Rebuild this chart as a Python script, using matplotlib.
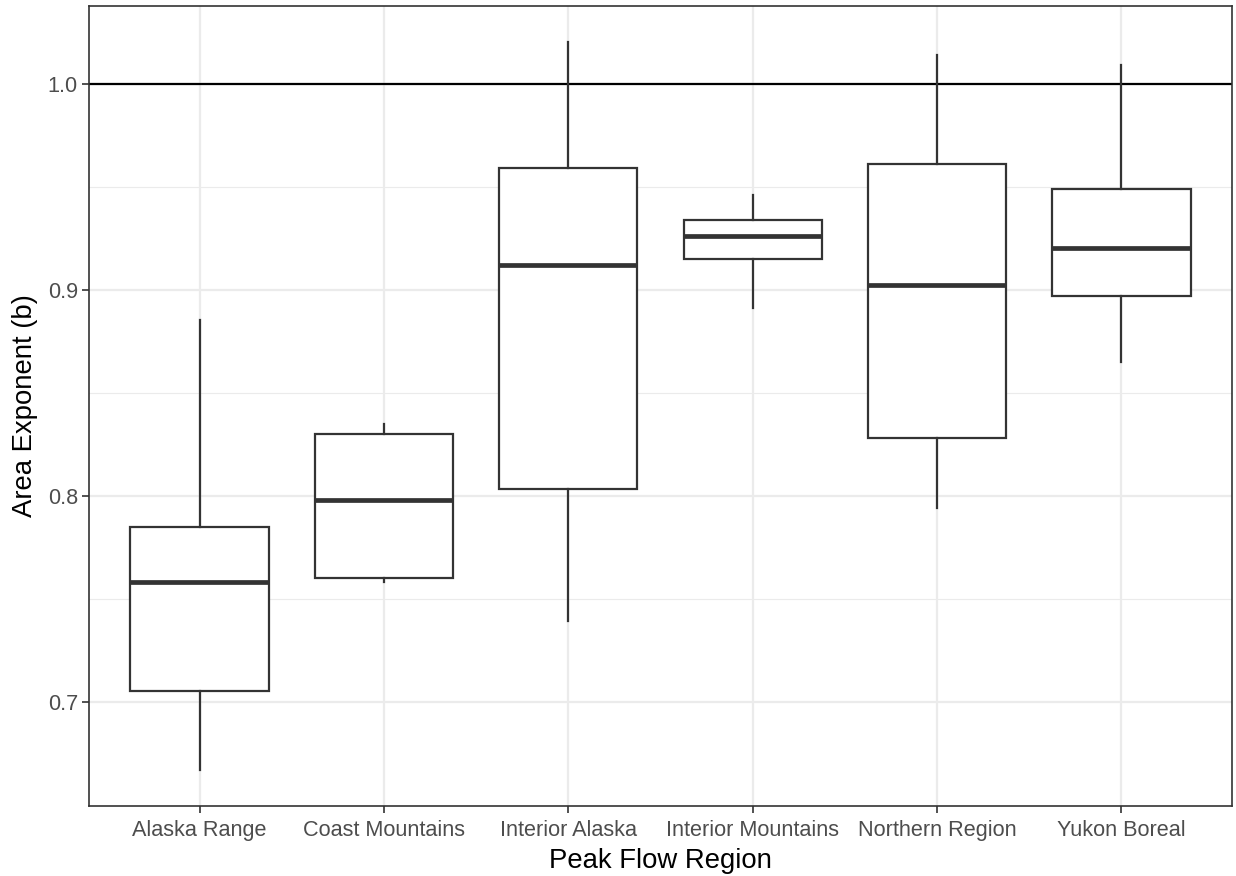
import matplotlib
matplotlib.use("Agg")
import matplotlib.pyplot as plt
from matplotlib.ticker import FixedLocator

plt.rcParams['font.family'] = ['Liberation Sans', 'DejaVu Sans']

# box summaries of the area exponent for each peak flow region
regions = ['Alaska Range', 'Coast Mountains', 'Interior Alaska',
           'Interior Mountains', 'Northern Region', 'Yukon Boreal']
whisk_lo = [0.667, 0.758, 0.739, 0.891, 0.794, 0.865]
q1 = [0.705, 0.760, 0.803, 0.915, 0.828, 0.897]
med = [0.758, 0.798, 0.912, 0.926, 0.902, 0.920]
q3 = [0.785, 0.830, 0.959, 0.934, 0.961, 0.949]
whisk_hi = [0.885, 0.835, 1.020, 0.946, 1.014, 1.009]

yticks = [0.7, 0.8, 0.9, 1.0]
yminor = [0.75, 0.85, 0.95]
ref_line = 1.0

grey20 = '#333333'
grey92 = '#EBEBEB'

fig = plt.figure(figsize=(12.36, 8.76), dpi=100)
ax = fig.add_axes([89/1236, 70/876, (1232-89)/1236, 800/876])

stats = []
for i, name in enumerate(regions):
    stats.append(dict(label=name, whislo=whisk_lo[i], q1=q1[i], med=med[i],
                      q3=q3[i], whishi=whisk_hi[i], fliers=[]))

pos = list(range(1, len(regions) + 1))
ax.bxp(stats, positions=pos, widths=0.75, showcaps=False, patch_artist=True,
       boxprops=dict(facecolor='white', edgecolor=grey20, linewidth=1.6),
       whiskerprops=dict(color=grey20, linewidth=1.6),
       medianprops=dict(color=grey20, linewidth=3.4, solid_capstyle='butt'),
       zorder=3)

ax.axhline(ref_line, color='black', linewidth=1.6, zorder=2)

# ggplot-style 5% expansion on y, 0.6 units on discrete x
lo, hi = min(whisk_lo), max(whisk_hi)
span = hi - lo
ax.set_ylim(lo - 0.05 * span, hi + 0.05 * span)
ax.set_xlim(0.4, len(regions) + 0.6)

ax.yaxis.set_major_locator(FixedLocator(yticks))
ax.yaxis.set_minor_locator(FixedLocator(yminor))
ax.set_yticklabels([f'{t:.1f}' for t in yticks])
ax.set_xticks(pos)
ax.set_xticklabels(regions)

ax.grid(True, which='major', color=grey92, linewidth=1.6, zorder=0)
ax.grid(True, which='minor', axis='y', color=grey92, linewidth=0.8, zorder=0)
ax.set_axisbelow(True)

ax.tick_params(axis='both', which='major', length=5, width=1.2, color=grey20,
               labelsize=15.6, labelcolor='#4D4D4D', pad=3)
ax.tick_params(axis='x', which='major', pad=5)
ax.tick_params(axis='y', which='minor', length=0)
for s in ax.spines.values():
    s.set_color(grey20)
    s.set_linewidth(1.2)

ax.set_xlabel('Peak Flow Region', fontsize=19.8, color='black', labelpad=5)
ax.set_ylabel('Area Exponent (b)', fontsize=19.8, color='black', labelpad=7)

fig.savefig('out.png', dpi=100, facecolor='white')
